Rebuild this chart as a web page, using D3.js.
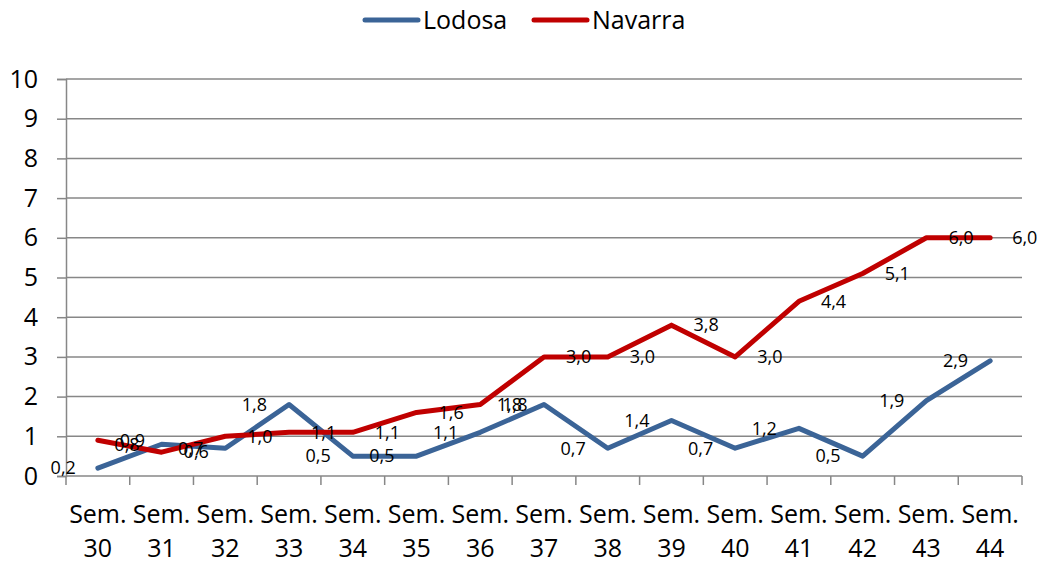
<!DOCTYPE html>
<html>
<head>
<meta charset="utf-8">
<script src="https://cdn.jsdelivr.net/npm/d3@7"></script>
<style>
  body { margin: 0; background: #fff; }
  svg { display: block; font-family: "Open Sans", "Liberation Sans", sans-serif; }
</style>
</head>
<body>
<svg id="chart" width="1041" height="563"></svg>
<script>
// data
const weeks = ["30", "31", "32", "33", "34", "35", "36", "37", "38", "39", "40", "41", "42", "43", "44"];
const lodosa = [0.2, 0.8, 0.7, 1.8, 0.5, 0.5, 1.1, 1.8, 0.7, 1.4, 0.7, 1.2, 0.5, 1.9, 2.9];
const navarra = [0.9, 0.6, 1.0, 1.1, 1.1, 1.6, 1.8, 3.0, 3.0, 3.8, 3.0, 4.4, 5.1, 6.0, 6.0];
const yTicks = [0, 1, 2, 3, 4, 5, 6, 7, 8, 9, 10];

const series = [
  { name: "Lodosa", values: lodosa, color: "#3b6497", side: "left" },
  { name: "Navarra", values: navarra, color: "#c00000", side: "right" }
];

const margin = { left: 66, right: 19, top: 79, bottom: 87 };
const W = 1041, H = 563;
const gridColor = "#878787";

const svg = d3.select("#chart");

const x = d3.scaleBand()
  .domain(weeks)
  .range([margin.left, W - margin.right]);
const y = d3.scaleLinear()
  .domain([0, 10])
  .range([H - margin.bottom, margin.top]);

// horizontal gridlines
svg.append("g")
  .selectAll("line")
  .data(yTicks.slice(1))
  .join("line")
  .attr("x1", margin.left)
  .attr("x2", W - margin.right)
  .attr("y1", d => y(d))
  .attr("y2", d => y(d))
  .attr("stroke", gridColor)
  .attr("stroke-width", 1.5);

// y axis
const yAxis = svg.append("g")
  .attr("transform", `translate(${margin.left},0)`)
  .call(d3.axisLeft(y).tickValues(yTicks).tickSize(9).tickPadding(19).tickFormat(d3.format("d")));
yAxis.select(".domain").attr("stroke", gridColor).attr("stroke-width", 1.5);
yAxis.selectAll(".tick line").attr("stroke", gridColor).attr("stroke-width", 1.5);
yAxis.selectAll(".tick text")
  .attr("fill", "#000")
  .style("font-size", "25px")
  .style("font-family", "'Open Sans', sans-serif");

// x axis: ticks at category boundaries
const xg = svg.append("g")
  .attr("transform", `translate(0,${y(0)})`);
xg.append("line")
  .attr("x1", margin.left).attr("x2", W - margin.right)
  .attr("stroke", gridColor).attr("stroke-width", 1.5);
const bounds = weeks.map(w => x(w)).concat([x(weeks[weeks.length - 1]) + x.bandwidth()]);
xg.selectAll("line.tk")
  .data(bounds)
  .join("line")
  .attr("class", "tk")
  .attr("x1", d => d).attr("x2", d => d)
  .attr("y1", 0).attr("y2", 9)
  .attr("stroke", gridColor).attr("stroke-width", 1.5);
const xl = xg.selectAll("text")
  .data(weeks)
  .join("text")
  .attr("x", d => x(d) + x.bandwidth() / 2)
  .attr("text-anchor", "middle")
  .style("font-size", "25px")
  .attr("fill", "#000");
xl.append("tspan").attr("x", d => x(d) + x.bandwidth() / 2).attr("y", 47).text("Sem.");
xl.append("tspan").attr("x", d => x(d) + x.bandwidth() / 2).attr("y", 81).text(d => d);

// lines
const cx = i => x(weeks[i]) + x.bandwidth() / 2;
const line = d3.line()
  .x((d, i) => cx(i))
  .y(d => y(d));

series.forEach(s => {
  svg.append("path")
    .datum(s.values)
    .attr("d", line)
    .attr("fill", "none")
    .attr("stroke", s.color)
    .attr("stroke-width", 5)
    .attr("stroke-linejoin", "round")
    .attr("stroke-linecap", "round");
});

// data labels: Lodosa to the left, Navarra to the right
const fmt = v => v.toFixed(1).replace(".", ",");
series.forEach(s => {
  svg.append("g")
    .selectAll("text")
    .data(s.values)
    .join("text")
    .attr("x", (d, i) => s.side === "left" ? cx(i) - 22 : cx(i) + 22)
    .attr("y", d => y(d))
    .attr("dy", "0.35em")
    .attr("text-anchor", s.side === "left" ? "end" : "start")
    .style("font-size", "18px")
    .attr("fill", "#000")
    .text(fmt);
});

// legend
const legend = svg.append("g").attr("transform", "translate(0,20)");
const legendItems = [
  { name: "Lodosa", color: series[0].color, x: 363 },
  { name: "Navarra", color: series[1].color, x: 532 }
];
legendItems.forEach(it => {
  legend.append("line")
    .attr("x1", it.x + 2).attr("x2", it.x + 55)
    .attr("stroke", it.color).attr("stroke-width", 5).attr("stroke-linecap", "round");
  legend.append("text")
    .attr("x", it.x + 60)
    .attr("dy", "0.35em")
    .style("font-size", "25px")
    .attr("fill", "#000")
    .text(it.name);
});
</script>
</body>
</html>
